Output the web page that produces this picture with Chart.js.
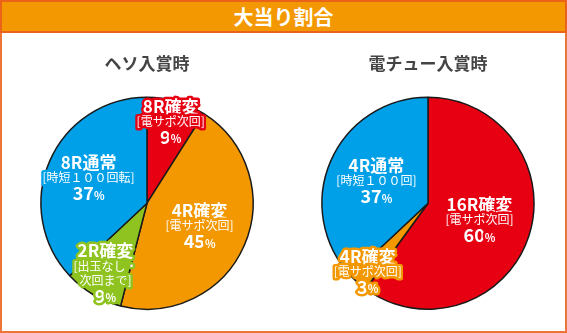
<!DOCTYPE html>
<html>
<head>
<meta charset="utf-8">
<script src="https://cdn.jsdelivr.net/npm/chart.js@4"></script>
<style>
  body { margin: 0; background: #fff; }
  #frame { position: absolute; left: 0; top: 0; width: 567px; height: 333px; box-sizing: border-box;
           border: 2px solid #ee7538; background: #fff; }
  #head { position: absolute; left: 0; top: 0; width: 567px; height: 33px; box-sizing: border-box;
          background: #f39800; border: 2px solid #e9631b; color: #fff; text-align: center;
          font: bold 20px "Noto Sans CJK JP", sans-serif; line-height: 29px; }
  canvas { position: absolute; }
</style>
</head>
<body>
<div id="frame"></div>
<div id="head">大当り割合</div>
<canvas id="heso" width="260" height="290" style="left:17px; top:40px"></canvas>
<canvas id="denchu" width="260" height="290" style="left:298px; top:40px"></canvas>
<script>
const hesoTitle = 'ヘソ入賞時';
const hesoNames = ['8R確変', '4R確変', '2R確変', '8R通常'];
const hesoNotes = ['[電サポ次回]', '[電サポ次回]', '[出玉なし・\n次回まで]', '[時短１００回転]'];
const hesoValues = [9, 45, 9, 37];

const denchuTitle = '電チュー入賞時';
const denchuNames = ['16R確変', '4R確変', '4R通常'];
const denchuNotes = ['[電サポ次回]', '[電サポ次回]', '[時短１００回]'];
const denchuValues = [60, 3, 37];

const RED = '#e60012', ORANGE = '#f39800', GREEN = '#8fc31f', BLUE = '#00a0e9';
const FONT = '"Noto Sans CJK JP", sans-serif';

// label sits on the slice's middle angle, at opts.dist[i] of the radius
const sliceLabels = {
    id: 'sliceLabels',
    afterDatasetsDraw(chart, args, opts) {
        const ctx = chart.ctx;
        const ds = chart.data.datasets[0];
        chart.getDatasetMeta(0).data.forEach((arc, i) => {
            const p = arc.getProps(['x', 'y', 'startAngle', 'endAngle', 'outerRadius'], true);
            const mid = (p.startAngle + p.endAngle) / 2;
            const r = p.outerRadius * opts.dist[i];
            const cx = p.x + Math.cos(mid) * r;
            const cy = p.y + Math.sin(mid) * r;

            const lines = [];
            lines.push({ segs: [[chart.data.labels[i], 'bold 17px ' + FONT]], gap: 0 });
            opts.notes[i].split('\n').forEach((n, k) => {
                lines.push({ segs: [[n, '12px ' + FONT]], gap: k === 0 ? 15 : 14 });
            });
            lines.push({ segs: [[String(ds.data[i]), 'bold 18px ' + FONT], ['%', 'bold 11px ' + FONT]], gap: 16 });

            let y = 0;
            const ys = lines.map(l => (y += l.gap));
            const top = cy - y / 2;

            ctx.save();
            ctx.textBaseline = 'middle';
            ctx.textAlign = 'left';
            ctx.lineJoin = 'round';
            ctx.lineWidth = 5;
            ctx.strokeStyle = ds.backgroundColor[i];
            ctx.fillStyle = '#fff';
            lines.forEach((l, j) => {
                let w = 0;
                l.segs.forEach(s => { ctx.font = s[1]; w += ctx.measureText(s[0]).width; });
                let x = cx - w / 2;
                const ly = top + ys[j];
                l.segs.forEach(s => {
                    ctx.font = s[1];
                    const sy = s[0] === '%' ? ly + 2 : ly;
                    ctx.strokeText(s[0], x, sy);
                    ctx.fillText(s[0], x, sy);
                    x += ctx.measureText(s[0]).width;
                });
            });
            ctx.restore();
        });
    }
};

function makePie(id, title, names, notes, values, colors, dist) {
    new Chart(document.getElementById(id), {
        type: 'pie',
        data: {
            labels: names,
            datasets: [{
                data: values,
                backgroundColor: colors,
                borderColor: '#1a1a1a',
                borderWidth: 1.5
            }]
        },
        options: {
            responsive: false,
            animation: false,
            layout: { padding: { left: 23, right: 23, bottom: 20 } },
            plugins: {
                legend: { display: false },
                tooltip: { enabled: false },
                title: {
                    display: true,
                    text: title,
                    color: '#444',
                    font: { family: FONT, size: 17, weight: 'bold', lineHeight: 1.2 },
                    padding: { top: 13, bottom: 23 }
                },
                sliceLabels: { notes: notes, dist: dist }
            }
        },
        plugins: [sliceLabels]
    });
}

makePie('heso', hesoTitle, hesoNames, hesoNotes, hesoValues,
        [RED, ORANGE, GREEN, BLUE], [0.8, 0.54, 0.77, 0.6]);
makePie('denchu', denchuTitle, denchuNames, denchuNotes, denchuValues,
        [RED, ORANGE, BLUE], [0.51, 0.86, 0.53]);
</script>
</body>
</html>
